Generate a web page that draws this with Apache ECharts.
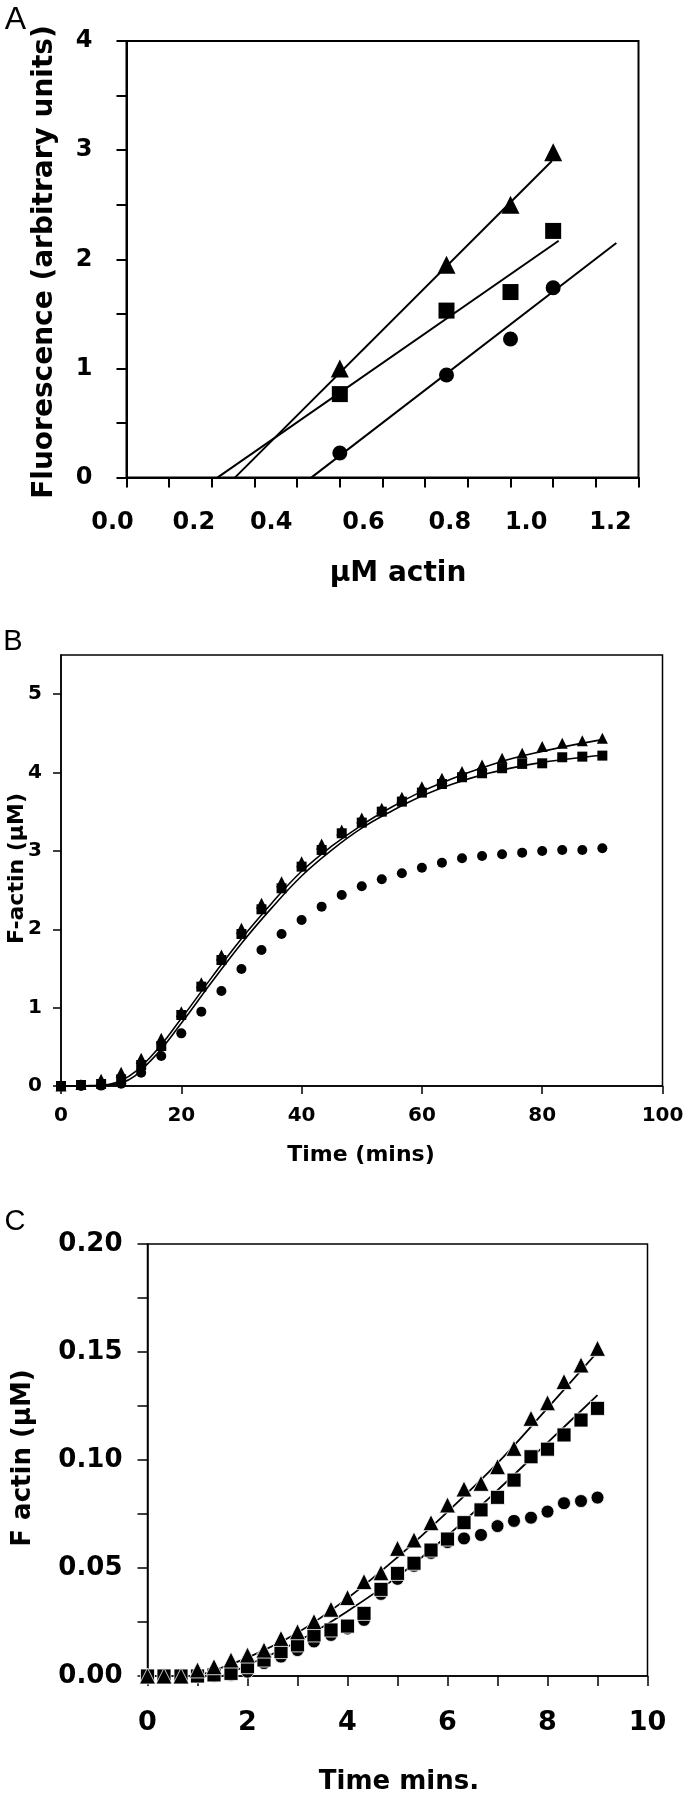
<!DOCTYPE html>
<html><head><meta charset="utf-8">
<script src="https://cdn.jsdelivr.net/npm/echarts@6/dist/echarts.min.js"></script>
<style>html,body{margin:0;padding:0;background:#fff}#c{width:689px;height:1800px}</style>
</head><body><div id="c"></div>
<script>
// ---------- Panel A ----------
const concA = [0.5, 0.75, 0.9, 1.0];
const triA = [1.0, 1.95, 2.5, 2.98];
const sqA = [0.765, 1.53, 1.70, 2.26];
const circA = [0.226, 0.94, 1.27, 1.74];
const fitTriA = [[0.254, 0], [0.997, 2.90]];
const fitSqA = [[0.213, 0], [1.013, 2.17]];
const fitCircA = [[0.433, 0], [1.148, 2.15]];
const xLabelsA = [0, 0.2, 0.4, 0.6, 0.8, 1.0, 1.2];
const yLabelsA = [0, 1, 2, 3, 4];

// ---------- Panel B ----------
const timeB = [0, 3.33, 6.67, 10, 13.33, 16.67, 20, 23.33, 26.67, 30, 33.33, 36.67, 40, 43.33,
  46.67, 50, 53.33, 56.67, 60, 63.33, 66.67, 70, 73.33, 76.67, 80, 83.33, 86.67, 90];
const triB = [0, 0.02, 0.085, 0.174, 0.353, 0.608, 0.949, 1.319, 1.672, 2.013, 2.332, 2.608, 2.863, 3.089,
  3.267, 3.42, 3.544, 3.685, 3.82, 3.927, 4.012, 4.097, 4.182, 4.246, 4.331, 4.374, 4.407, 4.438];
const sqB = [0, 0.013, 0.026, 0.085, 0.268, 0.51, 0.906, 1.268, 1.608, 1.94, 2.255, 2.523, 2.799, 3.012,
  3.225, 3.361, 3.501, 3.629, 3.744, 3.854, 3.94, 3.991, 4.055, 4.11, 4.118, 4.195, 4.203, 4.216];
const circB = [0, 0, 0.005, 0.03, 0.17, 0.383, 0.672, 0.949, 1.213, 1.493, 1.736, 1.94, 2.119, 2.289,
  2.438, 2.548, 2.638, 2.714, 2.786, 2.85, 2.906, 2.936, 2.957, 2.978, 2.999, 3.012, 3.012, 3.034];
const timeFitB = [0, 5, 10, 15, 20, 25, 30, 35, 40, 45, 50, 55, 60, 65, 70, 75, 80, 85, 90];
const fitTriB = [0, 0.005, 0.07, 0.38, 0.86, 1.38, 1.88, 2.33, 2.74, 3.06, 3.33, 3.56, 3.76, 3.92, 4.06, 4.18, 4.27, 4.35, 4.42];
const fitSqB = [0, 0.003, 0.04, 0.33, 0.80, 1.32, 1.82, 2.27, 2.68, 3.01, 3.29, 3.51, 3.70, 3.85, 3.97, 4.06, 4.13, 4.18, 4.22];
const xLabelsB = [0, 20, 40, 60, 80, 100];
const yLabelsB = [0, 1, 2, 3, 4, 5];

// ---------- Panel C ----------
const timeC = [0, 0.33, 0.67, 1, 1.33, 1.67, 2, 2.33, 2.67, 3, 3.33, 3.67, 4, 4.33,
  4.67, 5, 5.33, 5.67, 6, 6.33, 6.67, 7, 7.33, 7.67, 8, 8.33, 8.67, 9];
const triC = [0, 0, 0, 0.0028, 0.0043, 0.0074, 0.0097, 0.012, 0.0174, 0.0205, 0.0252, 0.0309, 0.0363, 0.0437,
  0.0478, 0.0591, 0.063, 0.071, 0.0792, 0.0866, 0.0892, 0.0969, 0.1054, 0.1193, 0.1265, 0.1363, 0.144, 0.1517];
const sqC = [0, 0, 0, 0, 0.0005, 0.0012, 0.0043, 0.0074, 0.0113, 0.0144, 0.019, 0.0213, 0.0231, 0.029,
  0.0401, 0.0475, 0.0522, 0.0583, 0.0634, 0.071, 0.0769, 0.0827, 0.0907, 0.1015, 0.105, 0.1116, 0.1185, 0.1239];
const circC = [0, 0, 0, 0, 0, 0.0005, 0.002, 0.006, 0.009, 0.012, 0.016, 0.019, 0.022, 0.026,
  0.038, 0.045, 0.051, 0.057, 0.062, 0.0637, 0.0653, 0.0694, 0.0718, 0.0733, 0.0761, 0.080, 0.081, 0.0826];
const timeFitTriC = [1, 2, 3, 4, 5, 6, 7, 8, 9];
const fitTriC = [0, 0.0085, 0.02, 0.036, 0.055, 0.076, 0.0985, 0.124, 0.150];
const timeFitSqC = [1.5, 2, 3, 4, 5, 6, 7, 8, 9];
const fitSqC = [0, 0.005, 0.016, 0.030, 0.046, 0.065, 0.086, 0.108, 0.130];
const xLabelsC = [0, 2, 4, 6, 8, 10];
const yLabelsC = [0, 0.05, 0.10, 0.15, 0.20];

// ---------- layout / style (not data) ----------
// the printed x labels of panel A sit a little left of their ticks
const labelShiftA = [-14, -18, -26, -19, -18, -27, -28];

// ---------- build ----------
const zip = (xs, ys) => xs.map((x, i) => [x, ys[i]]);
const BLACK = '#000';

function scatter(idx, data, symbol, size, border) {
  return {
    type: 'scatter', xAxisIndex: idx, yAxisIndex: idx, data, symbol, symbolSize: size,
    itemStyle: { color: BLACK, opacity: 1, borderColor: border ? '#fff' : BLACK, borderWidth: border ? 0.8 : 0 },
    z: 3, silent: true
  };
}
function fitLine(idx, data, width, smooth) {
  return {
    type: 'line', xAxisIndex: idx, yAxisIndex: idx, data, showSymbol: false, smooth: smooth,
    lineStyle: { color: BLACK, width, opacity: 1 }, z: 2, silent: true
  };
}
function axis(gi, min, max, interval, lw, tickLen, tickValues) {
  const tick = { show: true, inside: false, length: tickLen, lineStyle: { color: BLACK, width: lw } };
  if (tickValues) tick.customValues = tickValues;
  return {
    gridIndex: gi, type: 'value', min, max, interval,
    axisLine: { show: true, onZero: false, lineStyle: { color: BLACK, width: lw } },
    axisTick: tick,
    axisLabel: { show: false },
    splitLine: { show: false }
  };
}

const baseGraphic = [
  { type: 'text', x: 15.5, y: 20, style: { text: 'A', font: '32px "Liberation Sans"', fill: BLACK, textAlign: 'center', textVerticalAlign: 'middle' } },
  { type: 'text', x: 45, y: 262, rotation: Math.PI / 2, style: { text: 'Fluorescence (arbitrary units)', font: 'bold 28px "DejaVu Sans"', fill: BLACK, textAlign: 'center', textVerticalAlign: 'middle' } },
  { type: 'text', x: 398, y: 574, style: { text: 'μM actin', font: 'bold 28px "DejaVu Sans"', fill: BLACK, textAlign: 'center', textVerticalAlign: 'middle' } },
  { type: 'text', x: 13, y: 642, style: { text: 'B', font: '29px "Liberation Sans"', fill: BLACK, textAlign: 'center', textVerticalAlign: 'middle' } },
  { type: 'text', x: 17, y: 868.5, rotation: Math.PI / 2, style: { text: 'F-actin (μM)', font: 'bold 22px "DejaVu Sans"', fill: BLACK, textAlign: 'center', textVerticalAlign: 'middle' } },
  { type: 'text', x: 361, y: 1155, style: { text: 'Time (mins)', font: 'bold 22px "DejaVu Sans"', fill: BLACK, textAlign: 'center', textVerticalAlign: 'middle' } },
  { type: 'text', x: 15, y: 1222, style: { text: 'C', font: '29px "Liberation Sans"', fill: BLACK, textAlign: 'center', textVerticalAlign: 'middle' } },
  { type: 'text', x: 23, y: 1458, rotation: Math.PI / 2, style: { text: 'F actin (μM)', font: 'bold 26px "DejaVu Sans"', fill: BLACK, textAlign: 'center', textVerticalAlign: 'middle' } },
  { type: 'text', x: 399, y: 1782, style: { text: 'Time mins.', font: 'bold 26px "DejaVu Sans"', fill: BLACK, textAlign: 'center', textVerticalAlign: 'middle' } }
];

const option = {
  animation: false,
  backgroundColor: '#fff',
  grid: [
    { left: 126.5, top: 41, width: 512, height: 436.6, show: true, borderColor: BLACK, borderWidth: 2 },
    { left: 61, top: 655, width: 601.5, height: 431, show: true, borderColor: BLACK, borderWidth: 1.5 },
    { left: 147.5, top: 1244, width: 500, height: 432, show: true, borderColor: BLACK, borderWidth: 1.5 }
  ],
  xAxis: [
    axis(0, 0, 1.2, 0.1, 2, 10),
    axis(1, 0, 100, 20, 1.5, 8),
    axis(2, 0, 10, 1, 1.5, 10)
  ],
  yAxis: [
    axis(0, 0, 4, 0.5, 2, 10),
    axis(1, 0, 5.5, 1, 1.5, 8, yLabelsB),
    axis(2, 0, 0.2, 0.025, 1.5, 10)
  ],
  series: [
    fitLine(0, fitTriA, 2, false),
    fitLine(0, fitSqA, 2, false),
    fitLine(0, fitCircA, 2, false),
    scatter(0, zip(concA, triA), 'triangle', 18, false),
    scatter(0, zip(concA, sqA), 'rect', 16, false),
    scatter(0, zip(concA, circA), 'circle', 15, false),

    fitLine(1, zip(timeFitB, fitTriB), 1.6, 0.4),
    fitLine(1, zip(timeFitB, fitSqB), 1.6, 0.4),
    scatter(1, zip(timeB, circB), 'circle', 10, false),
    scatter(1, zip(timeB, sqB), 'rect', 10, false),
    scatter(1, zip(timeB, triB), 'triangle', 11, false),

    fitLine(2, zip(timeFitTriC, fitTriC), 1.8, 0.4),
    fitLine(2, zip(timeFitSqC, fitSqC), 1.8, 0.4),
    scatter(2, zip(timeC, circC), 'circle', 13, true),
    scatter(2, zip(timeC, sqC), 'rect', 14, true),
    scatter(2, zip(timeC, triC), 'triangle', 16, true)
  ],
  graphic: baseGraphic
};

const chart = echarts.init(document.getElementById('c'), null, { renderer: 'canvas', width: 689, height: 1800 });
chart.setOption(option);

// tick labels, placed through the axes' own scales
const tickText = [];
function font(size) { return 'bold ' + size + 'px "DejaVu Sans"'; }
function xLabels(gi, vals, fmt, dy, shifts, size) {
  vals.forEach((v, i) => {
    const p = chart.convertToPixel({ gridIndex: gi }, [v, 0]);
    const dx = shifts ? shifts[i] : 0;
    tickText.push({ type: 'text', x: p[0] + dx, y: p[1] + dy, silent: true,
      style: { text: fmt(v), font: font(size), fill: BLACK, textAlign: 'center', textVerticalAlign: 'middle' } });
  });
}
function yLabels(gi, xmin, vals, fmt, gap, size) {
  vals.forEach(v => {
    const p = chart.convertToPixel({ gridIndex: gi }, [xmin, v]);
    tickText.push({ type: 'text', x: p[0] - gap, y: p[1], silent: true,
      style: { text: fmt(v), font: font(size), fill: BLACK, textAlign: 'right', textVerticalAlign: 'middle' } });
  });
}
xLabels(0, xLabelsA, v => v.toFixed(1), 45.5, labelShiftA, 24);
yLabels(0, 0, yLabelsA, v => String(v), 34, 24);
xLabels(1, xLabelsB, v => String(v), 30, null, 20);
yLabels(1, 0, yLabelsB, v => String(v), 19, 20);
xLabels(2, xLabelsC, v => String(v), 47, null, 27);
yLabels(2, 0, yLabelsC, v => v.toFixed(2), 25, 26);

chart.setOption({ graphic: baseGraphic.concat(tickText) });
</script>
</body></html>
